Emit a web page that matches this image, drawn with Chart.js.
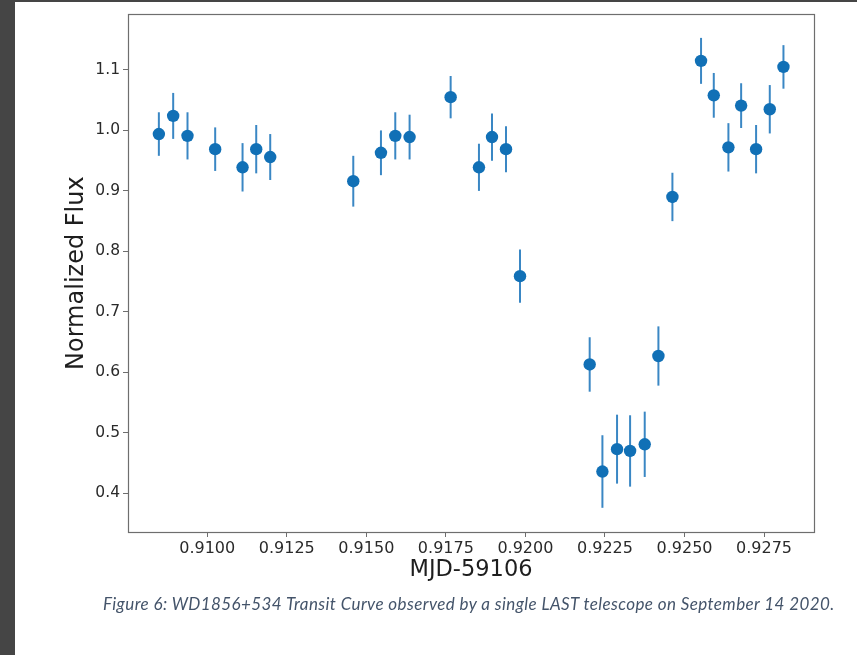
<!DOCTYPE html>
<html>
<head>
<meta charset="utf-8">
<script src="https://cdn.jsdelivr.net/npm/chart.js@4.4.1/dist/chart.umd.min.js"></script>
<style>
  html, body { margin: 0; padding: 0; }
  body { width: 857px; height: 655px; background: #454545; position: relative; overflow: hidden; }
  #sheet { position: absolute; left: 15px; top: 2px; width: 842px; height: 653px; background: #ffffff; }
  #plot { position: absolute; left: 0; top: 0; }
  #caption {
    position: absolute; left: 88px; top: 591px; white-space: nowrap;
    font-family: Lato, "Open Sans", sans-serif; font-style: italic; font-size: 17px;
    letter-spacing: 0.4px; color: #44546a;
  }
</style>
</head>
<body>
<div id="sheet">
  <canvas id="plot" width="842" height="600"></canvas>
  <div id="caption">Figure 6: WD1856+534 Transit Curve observed by a single LAST telescope on September 14 2020.</div>
</div>
<script>
// Observation times (MJD - 59106)
const mjd = [
  0.90848, 0.90893, 0.90938, 0.91025, 0.91111, 0.91154, 0.91198,
  0.91459, 0.91546, 0.91591, 0.91636, 0.91765, 0.91854, 0.91895,
  0.91939, 0.91983, 0.92202, 0.92242, 0.92288, 0.92329, 0.92375,
  0.92418, 0.92462, 0.92552, 0.92592, 0.92638, 0.92678, 0.92725,
  0.92768, 0.92811
];
// Normalized flux of WD1856+534
const flux = [
  0.994, 1.024, 0.991, 0.969, 0.939, 0.969, 0.956,
  0.916, 0.963, 0.991, 0.989, 1.055, 0.939, 0.989,
  0.969, 0.759, 0.613, 0.436, 0.473, 0.470, 0.481,
  0.627, 0.890, 1.115, 1.058, 0.972, 1.041, 0.969,
  1.035, 1.105
];
// 1-sigma flux uncertainties
const fluxErr = [
  0.036, 0.038, 0.039, 0.036, 0.040, 0.040, 0.038,
  0.042, 0.037, 0.039, 0.037, 0.035, 0.039, 0.039,
  0.038, 0.044, 0.045, 0.060, 0.057, 0.059, 0.054,
  0.049, 0.040, 0.038, 0.037, 0.040, 0.037, 0.040,
  0.040, 0.036
];
// Axis tick values
const xTicks = [0.9100, 0.9125, 0.9150, 0.9175, 0.9200, 0.9225, 0.9250, 0.9275];
const yTicks = [0.4, 0.5, 0.6, 0.7, 0.8, 0.9, 1.0, 1.1];

const points = mjd.map((t, i) => ({ x: t, y: flux[i], err: fluxErr[i] }));

const markerColor = '#1170b6';
const barColor = '#3a87c4';
const frameColor = '#6e6e6e';
const tickText = '#2a2a2a';

// Vertical error bars, drawn under the markers
const errorBars = {
  id: 'errorBars',
  beforeDatasetsDraw(chart) {
    const { ctx, scales: { x, y } } = chart;
    ctx.save();
    ctx.strokeStyle = barColor;
    ctx.lineWidth = 2;
    chart.data.datasets[0].data.forEach(p => {
      const px = x.getPixelForValue(p.x);
      ctx.beginPath();
      ctx.moveTo(px, y.getPixelForValue(p.y - p.err));
      ctx.lineTo(px, y.getPixelForValue(p.y + p.err));
      ctx.stroke();
    });
    ctx.restore();
  }
};

// Box around the plotting area
const frame = {
  id: 'frame',
  afterDraw(chart) {
    const { ctx, chartArea: a } = chart;
    ctx.save();
    ctx.strokeStyle = frameColor;
    ctx.lineWidth = 1.2;
    ctx.strokeRect(Math.round(a.left) + 0.5, Math.round(a.top) + 0.5,
                   Math.round(a.right - a.left), Math.round(a.bottom - a.top));
    ctx.restore();
  }
};

new Chart(document.getElementById('plot'), {
  type: 'scatter',
  data: {
    datasets: [{
      data: points,
      pointRadius: 6.2,
      pointHoverRadius: 6.2,
      pointBackgroundColor: markerColor,
      pointBorderColor: markerColor,
      pointBorderWidth: 0
    }]
  },
  options: {
    responsive: false,
    animation: false,
    devicePixelRatio: 1,
    layout: { padding: { left: 0, top: 12, right: 43, bottom: 0 } },
    plugins: { legend: { display: false }, tooltip: { enabled: false } },
    scales: {
      x: {
        type: 'linear',
        min: 0.90751,
        max: 0.92907,
        afterBuildTicks: s => { s.ticks = xTicks.map(v => ({ value: v })); },
        afterFit: s => { s.height = 70; },
        border: { display: false },
        grid: { drawOnChartArea: false, drawTicks: true, tickLength: 5, tickColor: frameColor, lineWidth: 1 },
        ticks: {
          padding: 2,
          color: tickText,
          font: { family: 'DejaVu Sans', size: 16 },
          maxRotation: 0,
          callback: v => Number(v).toFixed(4)
        },
        title: {
          display: true,
          text: 'MJD-59106',
          color: '#1e1e1e',
          font: { family: 'DejaVu Sans', size: 22.5 },
          padding: { top: 0, bottom: 18 }
        }
      },
      y: {
        type: 'linear',
        min: 0.336,
        max: 1.192,
        afterBuildTicks: s => { s.ticks = yTicks.map(v => ({ value: v })); },
        afterFit: s => { s.width = 113; },
        border: { display: false },
        grid: { drawOnChartArea: false, drawTicks: true, tickLength: 5, tickColor: frameColor, lineWidth: 1 },
        ticks: {
          padding: 3,
          color: tickText,
          font: { family: 'DejaVu Sans', size: 15.5 },
          callback: v => Number(v).toFixed(1)
        },
        title: {
          display: true,
          text: 'Normalized Flux',
          color: '#1e1e1e',
          font: { family: 'DejaVu Sans', size: 24 },
          padding: { top: 47, bottom: 0 }
        }
      }
    }
  },
  plugins: [errorBars, frame]
});
</script>
</body>
</html>
